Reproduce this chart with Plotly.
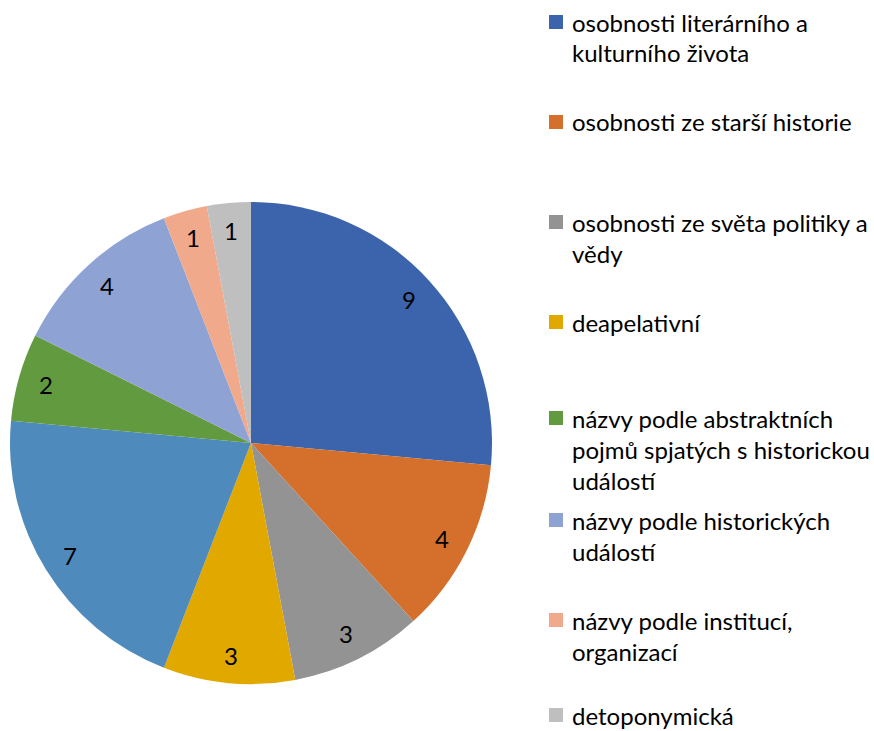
import math
import plotly.graph_objects as go

# Data
categories = [
    "osobnosti literárního a kulturního života",
    "osobnosti ze starší historie",
    "osobnosti ze světa politiky a vědy",
    "deapelativní",
    "ostatní",
    "názvy podle abstraktních pojmů spjatých s historickou událostí",
    "názvy podle historických událostí",
    "názvy podle institucí, organizací",
    "detoponymická",
]
values = [9, 4, 3, 3, 7, 2, 4, 1, 1]
colors = ["#3c64ac", "#d46f2c", "#939393", "#e1a900", "#4f8abd",
          "#629b3f", "#8ea3d4", "#f0a98a", "#bfbfbf"]

# legend entries (the "ostatní" slice has no legend entry in the original)
legend_lines = [
    ["osobnosti literárního a", "kulturního života"],
    ["osobnosti ze starší historie"],
    ["osobnosti ze světa politiky a", "vědy"],
    ["deapelativní"],
    ["názvy podle abstraktních", "pojmů spjatých s historickou", "událostí"],
    ["názvy podle historických", "událostí"],
    ["názvy podle institucí,", "organizací"],
    ["detoponymická"],
]
legend_colors = ["#3c64ac", "#d46f2c", "#939393", "#e1a900",
                 "#629b3f", "#8ea3d4", "#f0a98a", "#bfbfbf"]

W, H = 874, 731
FONT = "Lato"

# pie geometry (figure pixels)
PX0, PX1 = 10, 492
PY0, PY1 = 202, 684
legend_top = [22, 122, 222, 322, 418, 520, 620, 715]
LEG_SQ_X0, LEG_SQ_X1, LEG_TXT_X = 549, 563, 571
LINE_H = 31

fig = go.Figure()
fig.add_trace(go.Pie(
    labels=categories,
    values=values,
    marker=dict(colors=colors, line=dict(width=0)),
    sort=False,
    direction="clockwise",
    rotation=0,
    textinfo="none",
    showlegend=False,
    domain=dict(x=[PX0 / W, PX1 / W], y=[(H - PY1) / H, (H - PY0) / H]),
    hoverinfo="label+value",
))

annotations = []
# data labels placed near the rim at each slice's mid-angle
cx, cy = (PX0 + PX1) / 2, (PY0 + PY1) / 2
R = (PX1 - PX0) / 2
rl = 0.885 * R
total = sum(values)
cum = 0
for v in values:
    mid = (cum + v / 2) / total * 2 * math.pi
    cum += v
    lx = cx + rl * math.sin(mid)
    ly = cy - rl * math.cos(mid)
    annotations.append(dict(text=str(v), xref="paper", yref="paper",
                            x=lx / W, y=(H - ly) / H,
                            xanchor="center", yanchor="middle",
                            showarrow=False,
                            font=dict(family=FONT, size=24, color="#000000")))

shapes = []
for lines, col, yc in zip(legend_lines, legend_colors, legend_top):
    shapes.append(dict(type="rect", xref="paper", yref="paper",
                       x0=LEG_SQ_X0 / W, x1=LEG_SQ_X1 / W,
                       y0=(H - yc - 7) / H, y1=(H - yc + 7) / H,
                       fillcolor=col, line=dict(width=0)))
    for i, t in enumerate(lines):
        annotations.append(dict(text=t, xref="paper", yref="paper",
                                x=LEG_TXT_X / W, y=(H - (yc + i * LINE_H)) / H,
                                xanchor="left", yanchor="middle",
                                showarrow=False, borderpad=0,
                                font=dict(family=FONT, size=24, color="#000000")))

fig.update_layout(
    width=W, height=H,
    margin=dict(l=0, r=0, t=0, b=0),
    paper_bgcolor="white",
    plot_bgcolor="white",
    shapes=shapes,
    annotations=annotations,
)

fig.write_html("out.html",
               config={"displayModeBar": False},
               post_script="document.body.style.margin='0';"
                           "document.body.style.overflow='hidden';")
